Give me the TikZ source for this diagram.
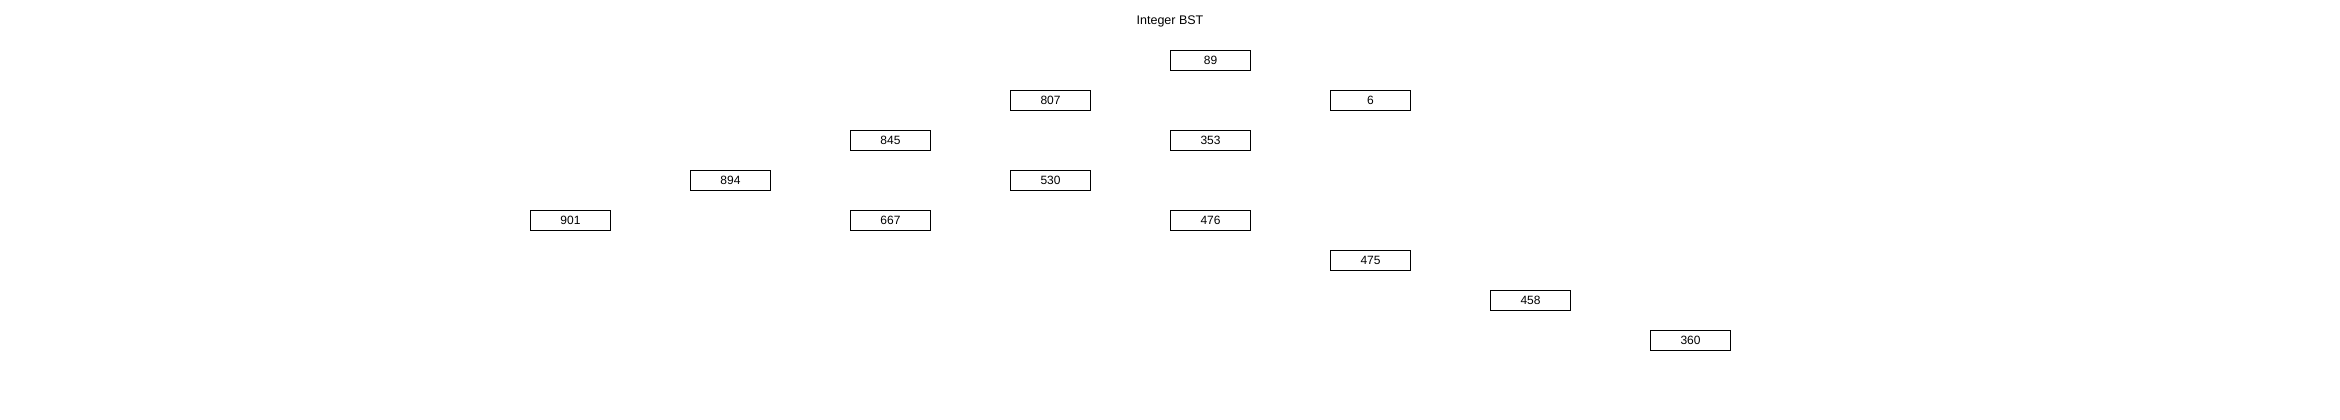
\documentclass[tikz,border=0pt]{standalone}
\usepackage{fontspec}
\setmainfont{Liberation Sans}
\begin{document}
\begin{tikzpicture}[x=1pt,y=-1pt,
  bstnode/.style={draw=black,line width=1pt,minimum width=80pt,minimum height=20pt,inner sep=0pt,font=\fontsize{12}{14}\selectfont},
  titletext/.style={inner sep=0pt,font=\fontsize{12.5}{15}\selectfont}]
\useasboundingbox[fill=white] (0,0) rectangle (2340,420);
\node[titletext] (title) at (1170,21) {Integer BST};
\node[bstnode] (n89) at (1210.5,60.5) {89};
\node[bstnode] (n807) at (1050.5,100.5) {807};
\node[bstnode] (n6) at (1370.5,100.5) {6};
\node[bstnode] (n845) at (890.5,140.5) {845};
\node[bstnode] (n353) at (1210.5,140.5) {353};
\node[bstnode] (n894) at (730.5,180.5) {894};
\node[bstnode] (n530) at (1050.5,180.5) {530};
\node[bstnode] (n901) at (570.5,220.5) {901};
\node[bstnode] (n667) at (890.5,220.5) {667};
\node[bstnode] (n476) at (1210.5,220.5) {476};
\node[bstnode] (n475) at (1370.5,260.5) {475};
\node[bstnode] (n458) at (1530.5,300.5) {458};
\node[bstnode] (n360) at (1690.5,340.5) {360};
\end{tikzpicture}
\end{document}
